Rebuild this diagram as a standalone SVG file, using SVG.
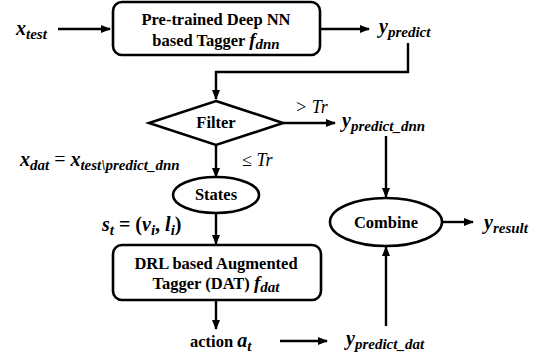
<svg xmlns="http://www.w3.org/2000/svg" width="544" height="361" viewBox="0 0 544 361">
<defs>
<marker id="ah" markerWidth="10" markerHeight="8" refX="9" refY="4" orient="auto" markerUnits="userSpaceOnUse">
<path d="M0,0 L10,4 L0,8 Z" fill="#000"/>
</marker>
<style>
.shape{fill:#fff;stroke:#000;stroke-width:2.6}
.conn{fill:none;stroke:#000;stroke-width:2.4}
</style>
</defs>
<rect width="544" height="361" fill="#fff"/>
<g id="connectors">
<path class="conn" d="M58,29 L110,29" marker-end="url(#ah)"/>
<path class="conn" d="M321,29 L369,29" marker-end="url(#ah)"/>
<path class="conn" d="M408,43 L408,72 L216,72 L216,99" marker-end="url(#ah)"/>
<path class="conn" d="M283,123 L335,123" marker-end="url(#ah)"/>
<path class="conn" d="M216,145 L216,177" marker-end="url(#ah)"/>
<path class="conn" d="M386,136 L386,197" marker-end="url(#ah)"/>
<path class="conn" d="M216,213 L216,244" marker-end="url(#ah)"/>
<path class="conn" d="M443,222 L473,222" marker-end="url(#ah)"/>
<path class="conn" d="M216,301 L216,329" marker-end="url(#ah)"/>
<path class="conn" d="M280,341 L327,341" marker-end="url(#ah)"/>
<path class="conn" d="M386,326 L386,247" marker-end="url(#ah)"/>
</g>
<g id="xtest"><text font-family="Liberation Serif" font-weight="bold" font-style="italic" font-size="20" x="16" y="35">x<tspan font-size="15" dy="4">test</tspan></text></g>
<g id="dnn">
<rect class="shape" x="113" y="2" width="207" height="53" rx="9"/>
<text font-family="Liberation Serif" font-weight="bold" font-size="16.5" x="216" y="25" text-anchor="middle">Pre-trained Deep NN</text>
<text font-family="Liberation Serif" font-weight="bold" font-size="16.5" x="216" y="46" text-anchor="middle">based Tagger <tspan font-style="italic" font-size="19">f</tspan><tspan font-style="italic" font-size="15" dy="3">dnn</tspan></text>
</g>
<g id="ypredict"><text font-family="Liberation Serif" font-weight="bold" font-style="italic" font-size="20" x="379" y="33">y<tspan font-size="15" dy="4">predict</tspan></text></g>
<g id="filter">
<path class="shape" d="M216,101 L283,123 L216,145 L149,123 Z"/>
<text font-family="Liberation Serif" font-weight="bold" font-size="16.5" x="216" y="128" text-anchor="middle">Filter</text>
</g>
<text font-family="Liberation Serif" font-style="italic" font-size="18" x="295" y="113">&gt; Tr</text>
<g id="ypdnn"><text font-family="Liberation Serif" font-weight="bold" font-style="italic" font-size="20" x="342" y="127">y<tspan font-size="15" dy="4">predict_dnn</tspan></text></g>
<text font-family="Liberation Serif" font-weight="bold" font-style="italic" font-size="20" x="20" y="166">x<tspan font-size="15" dy="4">dat</tspan><tspan dy="-4" font-style="normal" font-weight="normal"> = </tspan>x<tspan font-size="15" dy="4">test\predict_dnn</tspan></text>
<text font-family="Liberation Serif" font-style="italic" font-size="18" x="242" y="166">≤ Tr</text>
<g id="states">
<ellipse class="shape" cx="216" cy="195" rx="43" ry="18"/>
<text font-family="Liberation Serif" font-weight="bold" font-size="16.5" x="216" y="200" text-anchor="middle">States</text>
</g>
<text font-family="Liberation Serif" font-weight="bold" font-style="italic" font-size="20" x="102" y="231">s<tspan font-size="15" dy="4">t</tspan><tspan dy="-4" font-style="normal"> = (</tspan>v<tspan font-size="15" dy="4">i</tspan><tspan dy="-4" font-style="normal">, </tspan>l<tspan font-size="15" dy="4">i</tspan><tspan dy="-4" font-style="normal">)</tspan></text>
<g id="combine">
<ellipse class="shape" cx="386" cy="222" rx="56" ry="24"/>
<text font-family="Liberation Serif" font-weight="bold" font-size="16.5" x="386" y="228" text-anchor="middle">Combine</text>
</g>
<g id="yresult"><text font-family="Liberation Serif" font-weight="bold" font-style="italic" font-size="20" x="484" y="229">y<tspan font-size="15" dy="4">result</tspan></text></g>
<g id="dat">
<rect class="shape" x="113" y="245" width="208" height="55" rx="9"/>
<text font-family="Liberation Serif" font-weight="bold" font-size="16.5" x="216" y="269" text-anchor="middle">DRL based Augmented</text>
<text font-family="Liberation Serif" font-weight="bold" font-size="16.5" x="216" y="289" text-anchor="middle">Tagger (DAT)  <tspan font-style="italic" font-size="19">f</tspan><tspan font-style="italic" font-size="15" dy="3">dat</tspan></text>
</g>
<g id="action"><text font-family="Liberation Serif" font-weight="bold" font-size="16.5" x="190" y="347">action <tspan font-style="italic" font-size="20">a</tspan><tspan font-style="italic" font-size="15" dy="4">t</tspan></text></g>
<g id="ypdat"><text font-family="Liberation Serif" font-weight="bold" font-style="italic" font-size="20" x="346" y="345">y<tspan font-size="15" dy="4">predict_dat</tspan></text></g>
</svg>
